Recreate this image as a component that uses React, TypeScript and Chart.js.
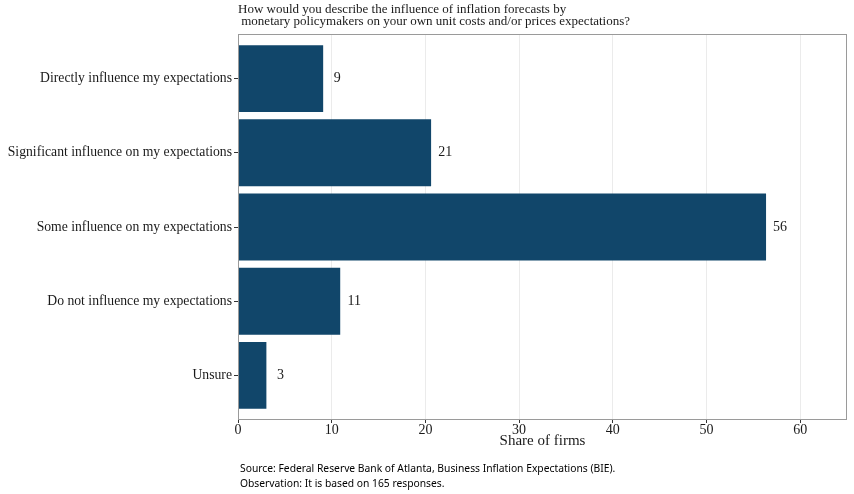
import React, { useEffect, useRef } from "react";
import { Chart, registerables } from "chart.js";

Chart.register(...registerables);

// Survey answer categories, top to bottom
const categories = [
  "Directly influence my expectations",
  "Significant influence on my expectations",
  "Some influence on my expectations",
  "Do not influence my expectations",
  "Unsure",
];

// Share of firms (%) for each answer
const shares = [9.09, 20.61, 56.36, 10.91, 3.03];

// Printed value labels next to the bars
const valueLabels = shares.map((v) => String(Math.round(v)));

// X-axis ticks
const xTicks = [0, 10, 20, 30, 40, 50, 60];

const titleLines = [
  "How would you describe the influence of inflation forecasts by",
  " monetary policymakers on your own unit costs and/or prices expectations?",
];
const xTitle = "Share of firms";
const sourceLines = [
  "Source: Federal Reserve Bank of Atlanta, Business Inflation Expectations (BIE).",
  "Observation: It is based on 165 responses.",
];

const SERIF = "'Liberation Serif', 'Times New Roman', serif";
const SANS = "'Noto Sans', 'Open Sans', sans-serif";
const BAR_COLOR = "#11466a";
const TEXT_COLOR = "#1a1a1a";
// value labels sit this far (in axis units) past the bar end, centred
const LABEL_NUDGE = 1.5;

const decorations = {
  id: "decorations",
  afterDatasetsDraw(chart: any) {
    const { ctx, chartArea } = chart;
    const xs = chart.scales.x;
    const ys = chart.scales.y;
    ctx.save();

    // panel border
    ctx.strokeStyle = "#9a9a9a";
    ctx.lineWidth = 1;
    ctx.strokeRect(
      chartArea.left + 0.5,
      chartArea.top + 0.5,
      chartArea.right - chartArea.left - 1,
      chartArea.bottom - chartArea.top - 1
    );

    // value labels
    ctx.fillStyle = TEXT_COLOR;
    ctx.font = `14px ${SERIF}`;
    ctx.textAlign = "center";
    ctx.textBaseline = "middle";
    shares.forEach((v, i) => {
      const x = xs.getPixelForValue(v + LABEL_NUDGE);
      const y = ys.getPixelForValue(i + 1);
      ctx.fillText(valueLabels[i], x, y);
    });

    // title
    ctx.textAlign = "left";
    ctx.font = `13px ${SERIF}`;
    ctx.fillText(titleLines[0], chartArea.left, 10);
    ctx.fillText(titleLines[1], chartArea.left, 22);

    // x-axis title
    ctx.font = `15px ${SERIF}`;
    ctx.textAlign = "center";
    ctx.fillText(xTitle, (chartArea.left + chartArea.right) / 2, 441);

    // source note
    ctx.font = `10.3px ${SANS}`;
    ctx.textAlign = "left";
    ctx.fillStyle = "#000";
    ctx.fillText(sourceLines[0], 240, 469);
    ctx.fillText(sourceLines[1], 240, 484);

    ctx.restore();
  },
};

export default function App() {
  const canvasRef = useRef<HTMLCanvasElement | null>(null);

  useEffect(() => {
    if (!canvasRef.current) return;
    const chart = new Chart(canvasRef.current, {
      type: "bar",
      data: {
        datasets: [
          {
            data: shares.map((v, i) => ({ x: v, y: i + 1 })),
            backgroundColor: BAR_COLOR,
            borderWidth: 0,
            barPercentage: 0.9,
            categoryPercentage: 1,
          },
        ],
      },
      options: {
        indexAxis: "y",
        animation: false,
        responsive: true,
        maintainAspectRatio: false,
        layout: { padding: { top: 34, right: 7, left: 0, bottom: 0 } },
        plugins: {
          legend: { display: false },
          tooltip: { enabled: false },
          title: { display: false },
        },
        scales: {
          x: {
            type: "linear",
            min: 0,
            max: 65,
            afterBuildTicks: (scale: any) => {
              scale.ticks = xTicks.map((v) => ({ value: v }));
            },
            afterFit: (scale: any) => {
              scale.height = 74;
            },
            border: { display: false },
            grid: {
              color: "#ebebeb",
              lineWidth: 1,
              drawTicks: true,
              tickLength: 3,
              tickColor: "#333",
            },
            ticks: {
              color: TEXT_COLOR,
              font: { family: SERIF, size: 14 },
              padding: -1,
              maxRotation: 0,
              autoSkip: false,
            },
          },
          y: {
            type: "linear",
            min: 0.4,
            max: 5.6,
            reverse: true,
            offset: false,
            afterBuildTicks: (scale: any) => {
              scale.ticks = categories.map((_, i) => ({ value: i + 1 }));
            },
            afterFit: (scale: any) => {
              scale.width = 238;
            },
            border: { display: false },
            grid: {
              offset: false,
              drawOnChartArea: false,
              drawTicks: true,
              tickLength: 4,
              tickColor: "#333",
            },
            ticks: {
              color: TEXT_COLOR,
              font: { family: SERIF, size: 13.7 },
              padding: 2,
              autoSkip: false,
              callback: (v: any) => categories[Math.round(Number(v)) - 1] ?? "",
            },
          },
        },
      },
      plugins: [decorations],
    });
    return () => chart.destroy();
  }, []);

  return (
    <div
      style={{
        position: "fixed",
        left: 0,
        top: 0,
        width: 854,
        height: 494,
        background: "#fff",
      }}
    >
      <canvas ref={canvasRef} />
    </div>
  );
}
